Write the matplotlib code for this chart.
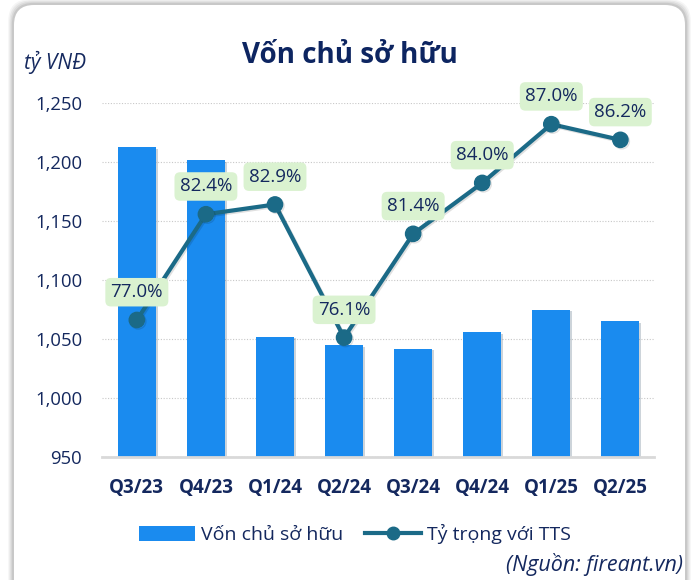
import matplotlib
matplotlib.use("Agg")
import matplotlib.pyplot as plt
import matplotlib.patheffects as pe
from matplotlib.patches import FancyBboxPatch, Patch
from matplotlib.lines import Line2D

plt.rcParams['font.family'] = ['Open Sans', 'DejaVu Sans']

# data
quarters = ["Q3/23", "Q4/23", "Q1/24", "Q2/24", "Q3/24", "Q4/24", "Q1/25", "Q2/25"]
equity = [1213, 1202, 1052, 1045, 1042, 1056, 1075, 1065]
ratio = [77.0, 82.4, 82.9, 76.1, 81.4, 84.0, 87.0, 86.2]

bar_color = "#1A8BEF"
line_color = "#1B6A87"
text_color = "#14285E"
label_bg = "#DAF2D0"

fig = plt.figure(figsize=(6.96, 5.8), dpi=100)
fig.patch.set_facecolor("white")

# card frame with a soft shadow
for i, a in enumerate([0.04, 0.05, 0.06, 0.08]):
    d = (4 - i) * 1.2
    fig.patches.append(FancyBboxPatch((13 - d, -20 - d), 673 + 2 * d, 596 + 2 * d,
                                      boxstyle="round,pad=0,rounding_size=22",
                                      transform=None, facecolor="black", alpha=a,
                                      edgecolor="none", zorder=-2))
fig.patches.append(FancyBboxPatch((14, -20), 671, 595,
                                  boxstyle="round,pad=0,rounding_size=20",
                                  transform=None, facecolor="white",
                                  edgecolor="none", zorder=-1))

ax = fig.add_axes([0.146, 0.212, 0.794, 0.610])
ax.set_facecolor("none")
x = range(len(quarters))

bars = ax.bar(x, equity, width=0.55, color=bar_color, zorder=2)
for b in bars:
    b.set_path_effects([pe.SimplePatchShadow(offset=(1.2, -1.2), alpha=0.2), pe.Normal()])

ax.set_ylim(950, 1250)
ax.set_xlim(-0.51, 7.49)
ax.set_yticks(range(950, 1251, 50))
ax.set_yticklabels([f"{v:,}" for v in range(950, 1251, 50)])
ax.set_xticks(list(x))
ax.set_xticklabels(quarters, fontweight="bold")
ax.tick_params(axis="y", length=0, pad=14, labelsize=13.3, labelcolor=text_color)
ax.tick_params(axis="x", length=0, pad=15, labelsize=13.5, labelcolor=text_color)
ax.grid(axis="y", color="#C8C8C8", linestyle=(0, (1, 1.5)), linewidth=0.8, zorder=0)
for s in ["top", "right", "left"]:
    ax.spines[s].set_visible(False)
ax.spines["bottom"].set_color("#D9D9D9")
ax.spines["bottom"].set_linewidth(2)

ax2 = ax.twinx()
ax2.set_ylim(70, 88.07)
ax2.axis("off")
ax2.plot(x, ratio, color=line_color, linewidth=3, marker="o", markersize=11,
         zorder=3, path_effects=[pe.SimpleLineShadow(offset=(1, -1), alpha=0.12), pe.Normal()])
for xi, v in zip(x, ratio):
    ax2.annotate(f"{v:.1f}%", (xi, v), xytext=(0, 20), textcoords="offset points",
                 ha="center", va="center", fontsize=13.5, color=text_color,
                 annotation_clip=False,
                 bbox=dict(boxstyle="round,pad=0.28,rounding_size=0.3",
                           facecolor=label_bg, edgecolor="none"))

fig.text(0.503, 0.905, "Vốn chủ sở hữu", ha="center", va="center",
         fontsize=20, fontweight="bold", color="#0D2561")
fig.text(0.035, 0.893, "tỷ VNĐ", ha="left", va="center", fontsize=15,
         style="italic", color=text_color)

handles = [Patch(facecolor=bar_color, edgecolor="none"),
           Line2D([], [], color=line_color, linewidth=3, marker="o", markersize=9)]
fig.legend(handles, ["Vốn chủ sở hữu", "Tỷ trọng với TTS"], loc="center",
           bbox_to_anchor=(0.51, 0.079), ncol=2, frameon=False, fontsize=14,
           labelcolor=text_color, handlelength=2.9, handleheight=0.8,
           handletextpad=0.3, columnspacing=1.1)
fig.text(0.982, 0.026, "(Nguồn: fireant.vn)", ha="right", va="center",
         fontsize=15.5, style="italic", color=text_color)

fig.savefig("out.png", dpi=100)
